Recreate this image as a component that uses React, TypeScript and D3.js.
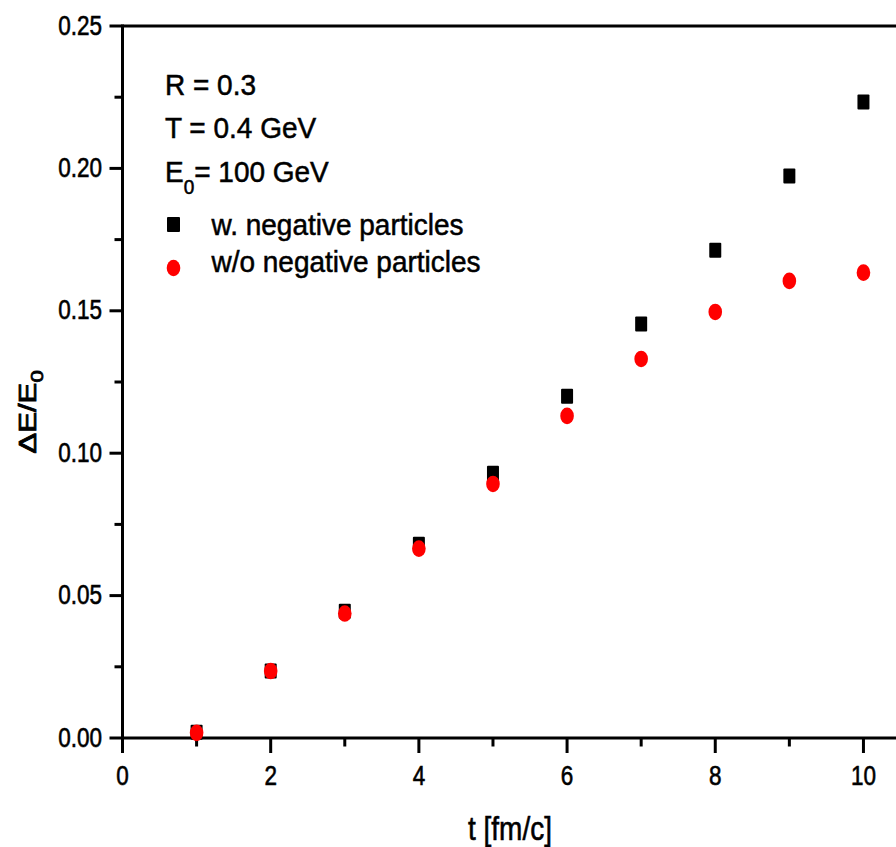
import React from "react";
import * as d3 from "d3";

const tValues = [1, 2, 3, 4, 5, 6, 7, 8, 9, 10];
const withNegative = [0.002, 0.0235, 0.0445, 0.068, 0.093, 0.12, 0.1454, 0.1713, 0.1973, 0.2233];
const withoutNegative = [0.0018, 0.0235, 0.0437, 0.0665, 0.0892, 0.1131, 0.1331, 0.1496, 0.1605, 0.1634];
const xMajorTicks = [0, 2, 4, 6, 8, 10];
const xMinorTicks = [1, 3, 5, 7, 9];
const yMajorTicks = [0, 0.05, 0.1, 0.15, 0.2, 0.25];
const yMinorTicks = [0.025, 0.075, 0.125, 0.175, 0.225];
const infoLines = ["R = 0.3", "T = 0.4 GeV"];
const seriesNames = ["w. negative particles", "w/o negative particles"];

const W = 896;
const H = 847;
const FONT = "'Liberation Sans', Arial, Helvetica, sans-serif";

const x = d3.scaleLinear().domain([0, 10.5]).range([122.5, 900.5]);
const y = d3.scaleLinear().domain([0, 0.25]).range([738, 26]);

function SText({ x, y, sx = 1, sy = 1, rotate = 0, anchor = "start", size, children, sw = 0.5 }: any) {
  return (
    <g transform={`translate(${x},${y}) rotate(${rotate}) scale(${sx},${sy})`}>
      <text x={0} y={0} textAnchor={anchor} fontSize={size} fontFamily={FONT} fill="#000" stroke="#000" strokeWidth={sw}>
        {children}
      </text>
    </g>
  );
}

export default function App() {
  const fmt = d3.format(".2f");
  const sqW = 12;
  const sqH = 15;
  const rx = 6.8;
  const ry = 8.3;
  return (
    <svg width={W} height={H} style={{ display: "block", position: "absolute", left: 0, top: 0, background: "#fff" }}>
      <rect x={0} y={0} width={W} height={H} fill="#fff" />
      {/* axes frame */}
      <line x1={x(0)} x2={x(10.5)} y1={y(0.25)} y2={y(0.25)} stroke="#000" strokeWidth={3} />
      <line x1={x(0)} x2={x(10.5)} y1={y(0)} y2={y(0)} stroke="#000" strokeWidth={3} />
      <line x1={x(0)} x2={x(0)} y1={y(0.25) - 1.5} y2={y(0) + 1.5} stroke="#000" strokeWidth={3} />
      {/* x ticks */}
      {xMajorTicks.map((t) => (
        <g key={"xm" + t}>
          <line x1={x(t)} x2={x(t)} y1={y(0)} y2={y(0) + 15} stroke="#000" strokeWidth={3} />
          <SText x={x(t)} y={y(0) + 47} anchor="middle" size={22.5} sy={1.2}>
            {String(t)}
          </SText>
        </g>
      ))}
      {xMinorTicks.map((t) => (
        <line key={"xn" + t} x1={x(t)} x2={x(t)} y1={y(0)} y2={y(0) + 8.5} stroke="#000" strokeWidth={3} />
      ))}
      {/* y ticks */}
      {yMajorTicks.map((v) => (
        <g key={"ym" + v}>
          <line x1={x(0)} x2={x(0) - 13} y1={y(v)} y2={y(v)} stroke="#000" strokeWidth={3} />
          <SText x={102} y={y(v) + 8.5} anchor="end" size={22.5} sy={1.2}>
            {fmt(v)}
          </SText>
        </g>
      ))}
      {yMinorTicks.map((v) => (
        <line key={"yn" + v} x1={x(0)} x2={x(0) - 8} y1={y(v)} y2={y(v)} stroke="#000" strokeWidth={3} />
      ))}
      {/* axis titles */}
      <SText x={510} y={840} anchor="middle" size={28} sy={1.2}>
        t [fm/c]
      </SText>
      <SText x={36} y={412} anchor="middle" size={24} rotate={-90} sx={1.3} sw={0.8}>
        <tspan>ΔE/E</tspan>
        <tspan fontSize={17} dy={7}>0</tspan>
      </SText>
      {/* data: black squares then red circles */}
      {tValues.map((t, i) => (
        <rect key={"b" + t} x={x(t) - sqW / 2} y={y(withNegative[i]) - sqH / 2} width={sqW} height={sqH} rx={1} fill="#000" />
      ))}
      {tValues.map((t, i) => (
        <ellipse key={"r" + t} cx={x(t)} cy={y(withoutNegative[i])} rx={rx} ry={ry} fill="#ff0000" />
      ))}
      {/* legend / info */}
      {infoLines.map((s, i) => (
        <SText key={s} x={165} y={95 + i * 43} size={28} sy={1.05}>
          {s}
        </SText>
      ))}
      <SText x={165} y={182} size={28} sy={1.05}>
        <tspan>E</tspan>
        <tspan fontSize={19} dy={11}>0</tspan>
        <tspan dy={-11}>= 100 GeV</tspan>
      </SText>
      <rect x={173.5 - 6.5} y={224.5 - 7.5} width={13} height={15} rx={1} fill="#000" />
      <SText x={211.5} y={235} size={28} sy={1.05}>
        {seriesNames[0]}
      </SText>
      <ellipse cx={173.5} cy={268} rx={rx} ry={ry} fill="#ff0000" />
      <SText x={211.5} y={272} size={28} sy={1.05}>
        {seriesNames[1]}
      </SText>
    </svg>
  );
}
